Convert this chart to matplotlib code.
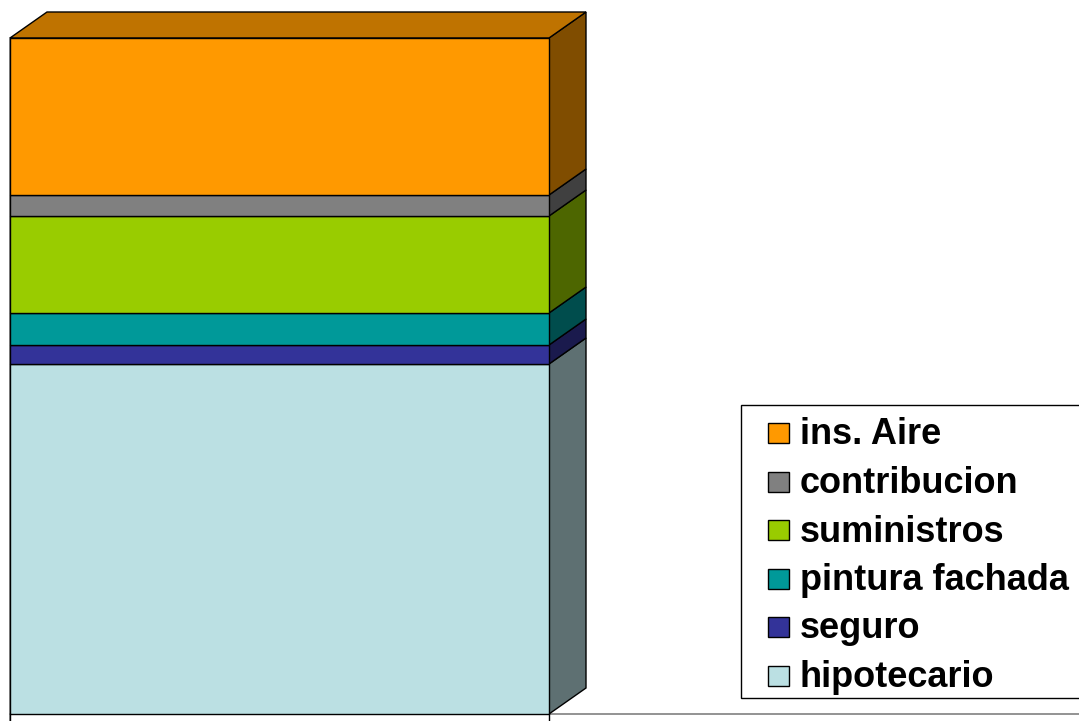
import matplotlib
matplotlib.use("Agg")
import matplotlib.pyplot as plt
from matplotlib.patches import Polygon, Rectangle
import numpy as np

plt.rcParams['font.family'] = ['Liberation Sans', 'DejaVu Sans']

# stacked from the bottom up
labels = ["hipotecario", "seguro", "pintura fachada", "suministros", "contribucion", "ins. Aire"]
values = [350, 19, 32, 97, 21, 157]
colors = ["#BBE0E3", "#333399", "#009999", "#99CC00", "#808080", "#FF9900"]


def shade(c, f):
    r, g, b = matplotlib.colors.to_rgb(c)
    return (r * f, g * f, b * f)


W, H = 1079, 721
fig = plt.figure(figsize=(W / 100, H / 100), dpi=100)
ax = fig.add_axes([0, 0, 1, 1])
ax.axis("off")

# one category bar, 539 px wide, left edge at 10 px, 1 value unit = 1 px
px = 1 / 539.0
x0 = -0.5 - 10 * px
ax.set_xlim(x0, x0 + W * px)
ax.set_ylim(-7, H - 7)

dx, dy = 37 * px, 26  # depth of the 3d box

bottoms = np.concatenate([[0], np.cumsum(values)[:-1]])
ax.bar([0] * len(values), values, width=1.0, bottom=bottoms, color=colors,
       edgecolor="black", linewidth=1.0, zorder=3)

xr = 0.5
for b, v, c in zip(bottoms, values, colors):
    t = b + v
    side = Polygon([(xr, b), (xr + dx, b + dy), (xr + dx, t + dy), (xr, t)],
                   closed=True, facecolor=shade(c, 0.5), edgecolor="black",
                   linewidth=1.0, zorder=2)
    ax.add_patch(side)

top = bottoms[-1] + values[-1]
ax.add_patch(Polygon([(-0.5, top), (-0.5 + dx, top + dy), (xr + dx, top + dy), (xr, top)],
                     closed=True, facecolor=shade(colors[-1], 0.75), edgecolor="black",
                     linewidth=1.0, zorder=2))

# floor / axis lines
ax.plot([-0.5, x0 + W * px], [0, 0], color="#808080", linewidth=1.2, zorder=1)
ax.plot([-0.5, -0.5], [-7, top], color="#808080", linewidth=1.2, zorder=1)
ax.plot([-0.5, -0.5], [-7, 0], color="black", linewidth=1.0, zorder=4)
ax.plot([0.5, 0.5], [-7, 0], color="black", linewidth=1.0, zorder=4)

# legend drawn in figure pixels
def fxy(x, y):
    return x / W, 1 - y / H

lx, ly = fxy(741, 698)
fig.patches.append(Rectangle((lx, ly), (W + 5 - 741) / W, (698 - 405) / H,
                             transform=fig.transFigure, facecolor="white",
                             edgecolor="black", linewidth=1.0))
for i, (lab, c) in enumerate(zip(labels[::-1], colors[::-1])):
    yc = 433 + i * 48.5
    sx, sy = fxy(768, yc + 10)
    fig.patches.append(Rectangle((sx, sy), 21 / W, 20 / H, transform=fig.transFigure,
                                 facecolor=c, edgecolor="black", linewidth=1.0))
    tx, ty = fxy(800, yc + 2)
    fig.text(tx, ty, lab, fontsize=26, fontweight="bold", va="center", ha="left")

fig.savefig("out.png", dpi=100)
